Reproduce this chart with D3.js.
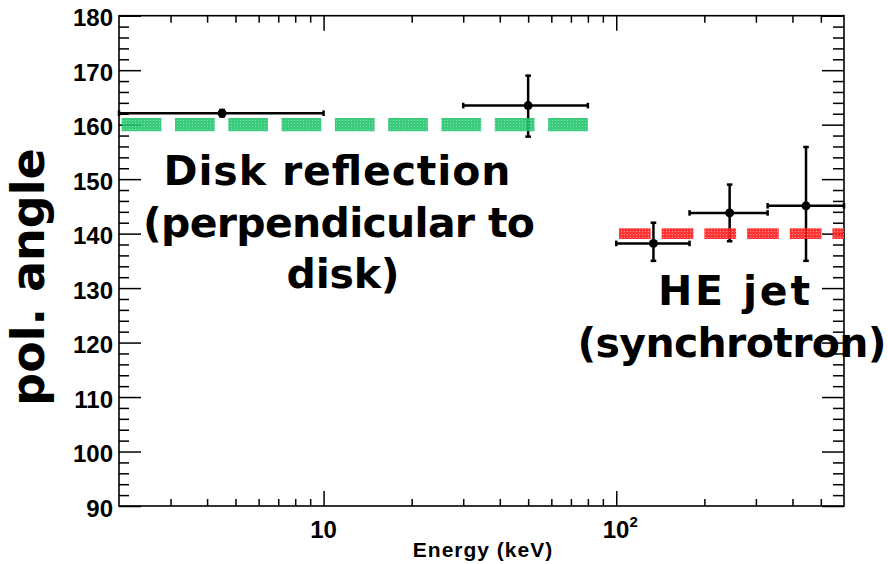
<!DOCTYPE html>
<meta charset="utf-8">
<html>
  <head>
    <title>pol. angle vs energy</title>
    <script src="https://d3js.org/d3.v7.min.js"></script>
    <style>
      body{margin:0;background:#fff;}
      .tick text{font-family:"Liberation Sans",Arial,sans-serif;font-weight:bold;font-size:24px;fill:#000;}
      .note{font-family:"Comic Sans MS","DejaVu Sans",sans-serif;font-weight:bold;font-size:41px;fill:#000;text-anchor:middle;}
    </style>
  </head>
  <body>
    <div id="chart"></div>
  <script>
    var width=888,
        height=564;
    // frame of the plot
    var pLeft=119, pRight=844, pTop=15.7, pBottom=506;

    // data points (energy bins, keV) and pol. angle (deg)
    var energy=[4.5, 50, 134, 244, 445];
    var eLow=[2, 30, 100, 178, 329];
    var eHigh=[10, 80, 178, 329, 600];
    var angle=[162.1, 163.5, 138.2, 143.8, 145.1];
    var errDown=[0.6, 5.7, 3.2, 5.2, 10.1];
    var errUp=[0.6, 5.5, 3.8, 5.2, 10.8];

    // model lines
    var modelAngle=[160, 140];
    var modelFrom=[2, 100];
    var modelTo=[80, 600];

    // ticks
    var yMajor=[90,100,110,120,130,140,150,160,170,180];
    var xMajor=[10,100];
    var xMajorLabel=["10","10|2"];
    var xMinor=[3,4,5,6,7,8,9,20,30,40,50,60,70,80,90,200,300,400,500];

    var x=d3.scaleLog().domain([2,600]).range([pLeft,pRight]);
    var y=d3.scaleLinear().domain([90,180]).range([pBottom,pTop]);
    var yMinor=d3.range(90,181,2).filter(function(v){return v%10!=0});

    var svg=d3.select("#chart").append("svg")
      .attr("width",width).attr("height",height);

    // textured stroke patterns for the model bands
    var defs=svg.append("defs");
    function pattern(id,base,dot){
      var p=defs.append("pattern").attr("id",id)
        .attr("width",3).attr("height",3).attr("patternUnits","userSpaceOnUse");
      p.append("rect").attr("width",3).attr("height",3).attr("fill",base);
      p.append("rect").attr("width",1).attr("height",1).attr("fill",dot);
    }
    pattern("pGreen","#20c46a","#6fdc9a");
    pattern("pRed","#ff1c1c","#ff8080");

    // axes (ticks inward)
    var axG=svg.append("g");
    axG.append("g").attr("transform","translate(0,"+pBottom+")")
      .call(d3.axisBottom(x).tickValues(xMinor).tickSize(-7).tickFormat(""));
    axG.append("g").attr("transform","translate(0,"+pBottom+")")
      .call(d3.axisBottom(x).tickValues(xMajor).tickSize(-15).tickFormat(""));
    axG.append("g").attr("transform","translate(0,"+pTop+")")
      .call(d3.axisTop(x).tickValues(xMinor).tickSize(-7).tickFormat(""));
    axG.append("g").attr("transform","translate(0,"+pTop+")")
      .call(d3.axisTop(x).tickValues(xMajor).tickSize(-15).tickFormat(""));
    axG.append("g").attr("transform","translate("+pLeft+",0)")
      .call(d3.axisLeft(y).tickValues(yMinor).tickSize(-10).tickFormat(""));
    axG.append("g").attr("transform","translate("+pLeft+",0)")
      .call(d3.axisLeft(y).tickValues(yMajor).tickSize(-22).tickPadding(6).tickFormat(d3.format("d")))
      .selectAll("text").attr("dy","0.42em");
    axG.append("g").attr("transform","translate("+pRight+",0)")
      .call(d3.axisRight(y).tickValues(yMinor).tickSize(-11).tickFormat(""));
    axG.append("g").attr("transform","translate("+pRight+",0)")
      .call(d3.axisRight(y).tickValues(yMajor).tickSize(-22).tickFormat(""));
    axG.selectAll(".domain").remove();
    axG.selectAll(".tick line").attr("stroke","#000").attr("stroke-width",1.5);

    // frame
    svg.append("rect").attr("x",pLeft).attr("y",pTop)
      .attr("width",pRight-pLeft).attr("height",pBottom-pTop)
      .attr("fill","none").attr("stroke","#000").attr("stroke-width",1.6);

    // x tick labels
    xMajor.forEach(function(v,i){
      var parts=xMajorLabel[i].split("|");
      var t=svg.append("text").attr("x",x(v)).attr("y",538)
        .attr("text-anchor","middle")
        .style("font-family","Liberation Sans,Arial,sans-serif")
        .style("font-weight","bold").style("font-size","24px")
        .text(parts[0]);
      if(parts[1]){
        t.attr("x",x(v)+4);
        t.append("tspan").attr("dy",-11).style("font-size","15px").text(parts[1]);
      }
    });

    // axis titles
    svg.append("text").attr("x",483).attr("y",557)
      .attr("text-anchor","middle")
      .style("font-family","Liberation Sans,Arial,sans-serif")
      .style("font-weight","bold").style("font-size","21px")
      .style("letter-spacing","1px")
      .text("Energy (keV)");
    svg.append("text")
      .attr("transform","translate(44,277) rotate(-90)")
      .attr("class","note").style("font-size","46px")
      .text("pol. angle");

    // data points with error bars
    var ptsG=svg.append("g").attr("stroke","#000").attr("stroke-width",2.5);
    var cap=2.8;
    energy.forEach(function(e,i){
      var cx=x(e), cy=y(angle[i]);
      var xl=x(eLow[i]), xh=x(eHigh[i]);
      var yt=y(angle[i]+errUp[i]), yb=y(angle[i]-errDown[i]);
      ptsG.append("line").attr("x1",xl).attr("x2",xh).attr("y1",cy).attr("y2",cy);
      ptsG.append("line").attr("x1",cx).attr("x2",cx).attr("y1",yt).attr("y2",yb);
      ptsG.append("line").attr("x1",xl).attr("x2",xl).attr("y1",cy-cap).attr("y2",cy+cap);
      ptsG.append("line").attr("x1",xh).attr("x2",xh).attr("y1",cy-cap).attr("y2",cy+cap);
      ptsG.append("line").attr("x1",cx-cap).attr("x2",cx+cap).attr("y1",yt).attr("y2",yt);
      ptsG.append("line").attr("x1",cx-cap).attr("x2",cx+cap).attr("y1",yb).attr("y2",yb);
      ptsG.append("circle").attr("cx",cx).attr("cy",cy).attr("r",4.5)
        .attr("fill","#000").attr("stroke","none");
    });

    // model bands (dashed, drawn on top)
    var bandStyle=[{pat:"url(#pGreen)",w:13.3,dash:"39.7 13.6"},
                   {pat:"url(#pRed)",w:10.7,dash:"31.7 11"}];
    modelAngle.forEach(function(a,i){
      svg.append("line")
        .attr("x1",x(modelFrom[i])+2.7).attr("x2",x(modelTo[i]))
        .attr("y1",y(a)).attr("y2",y(a))
        .attr("stroke",bandStyle[i].pat)
        .attr("stroke-width",bandStyle[i].w)
        .attr("stroke-dasharray",bandStyle[i].dash)
        .attr("opacity",0.88);
    });

    // annotations: text, centre x, baseline y, width
    var notes=[["Disk reflection",337,185,347],["(perpendicular to",339,237,392],["disk)",343,288,113],
               ["HE jet",734,305,152],["(synchrotron)",732,357,309]];
    svg.selectAll("text.ann").data(notes).enter().append("text")
      .attr("class","note ann")
      .attr("x",function(d){return d[1]})
      .attr("y",function(d){return d[2]})
      .attr("textLength",function(d){return d[3]})
      .attr("lengthAdjust","spacing")
      .text(function(d){return d[0]});
  </script>
  </body>
</html>
